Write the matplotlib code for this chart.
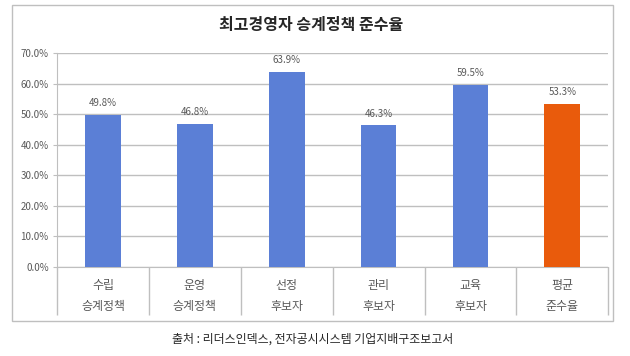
import numpy as np
import matplotlib
matplotlib.use('Agg')
from matplotlib import pyplot as plt
from matplotlib.patches import Rectangle
from matplotlib.ticker import FuncFormatter

plt.rcParams['font.family'] = ['Noto Sans CJK KR', 'DejaVu Sans']

# data
categories = ['수립\n승계정책', '운영\n승계정책', '선정\n후보자', '관리\n후보자', '교육\n후보자', '평균\n준수율']
values = [49.8, 46.8, 63.9, 46.3, 59.5, 53.3]
colors = ['#5B7FD6', '#5B7FD6', '#5B7FD6', '#5B7FD6', '#5B7FD6', '#E95B0C']

TITLE = '최고경영자 승계정책 준수율'
SOURCE = '출처 : 리더스인덱스, 전자공시시스템 기업지배구조보고서'

GRIS = '#bfbfbf'
TEXTE = '#595959'

fig = plt.figure(figsize=(6.3, 3.56), dpi=100)
ax = fig.add_axes([0.0905, 0.25, 0.875, 0.601])

x = np.arange(len(values))
ax.bar(x, values, width=0.39, color=colors, zorder=3)

# etiquettes de valeur
for xi, v in zip(x, values):
    ax.annotate('%.1f%%' % v, (xi, v), xytext=(0, 5), textcoords='offset points',
                ha='center', va='bottom', fontsize=7, color=TEXTE)

ax.set_xlim(-0.5, len(values) - 0.5)
ax.set_ylim(0, 70)
ax.set_yticks(np.arange(0, 71, 10))
ax.yaxis.set_major_formatter(FuncFormatter(lambda v, p: '%.1f%%' % v))
ax.grid(axis='y', color=GRIS, linewidth=1, zorder=0)

ax.set_xticks(x)
ax.set_xticklabels(categories, linespacing=1.75)
ax.set_xticks(np.arange(-0.5, len(values), 1), minor=True)
ax.tick_params(axis='x', which='major', length=0, pad=9, labelsize=8.6, labelcolor=TEXTE)
ax.tick_params(axis='x', which='minor', length=34.5, color=GRIS, width=1)
ax.tick_params(axis='y', length=3, color=GRIS, labelsize=7, labelcolor=TEXTE, pad=3)

for s in ['top', 'right']:
    ax.spines[s].set_visible(False)
ax.spines['left'].set_color(GRIS)
ax.spines['bottom'].set_color(GRIS)

# cadre du graphique
fig.patches.append(Rectangle((0.019, 0.098), 0.954, 0.888, transform=fig.transFigure,
                             fill=False, edgecolor=GRIS, linewidth=1))

fig.text(0.494, 0.93, TITLE, ha='center', va='center', fontsize=11.5,
         fontweight='bold', color='#262626')
fig.text(0.497, 0.048, SOURCE, ha='center', va='center', fontsize=8.6, color='#262626')

fig.savefig('out.png', dpi=100)
